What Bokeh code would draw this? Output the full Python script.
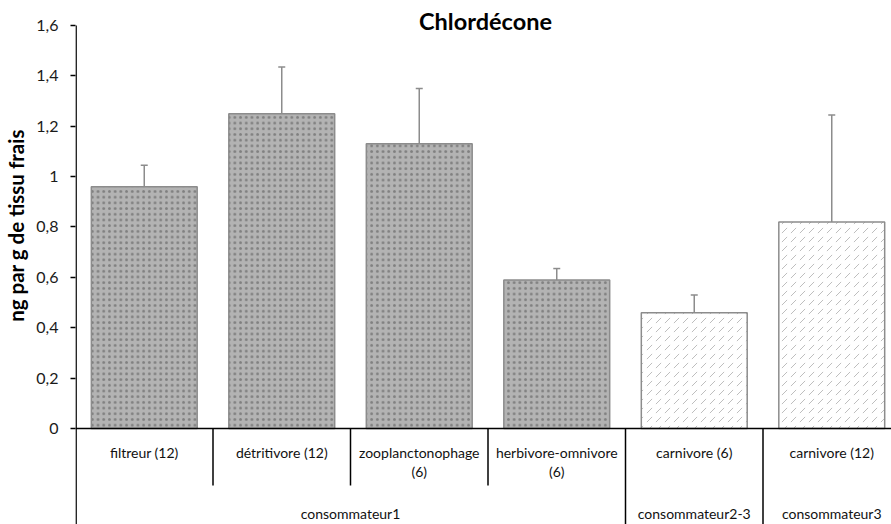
from bokeh.plotting import figure
from bokeh.layouts import row
from bokeh.models import Range1d, FixedTicker, Span, Whisker, TeeHead, ColumnDataSource
from bokeh.core.properties import value
from bokeh.embed import file_html
from bokeh.resources import INLINE
import math

# ---- data ----
categories = ["filtreur (12)", "détritivore (12)", "zooplanctonophage\n(6)",
              "herbivore-omnivore\n(6)", "carnivore (6)", "carnivore (12)"]
means = [0.96, 1.25, 1.13, 0.59, 0.46, 0.82]
errors = [0.085, 0.185, 0.22, 0.045, 0.07, 0.425]
groups = ["consommateur1", "consommateur2-3", "consommateur3"]
group_sizes = [4, 1, 1]
tick_values = [0, 0.2, 0.4, 0.6, 0.8, 1.0, 1.2, 1.4, 1.6]
tick_labels = ["0", "0,2", "0,4", "0,6", "0,8", "1", "1,2", "1,4", "1,6"]
title_text = "Chlordécone"
ylabel_text = "ng par g de tissu frais"
hatched = [False, False, False, False, True, True]

FONT = "Lato"
W, H = 891, 524
LW = 32                      # width of the y-label strip
frame_left_px = 75           # page x of the value axis
px_per_cat = 137.5
px_per_unit = 251.9
y0_px = 428                  # page y of value 0
y_max = tick_values[-1]

def ydat(py):
    return (y0_px - py) / px_per_unit

def xdat(px):
    return (px - frame_left_px) / px_per_cat

# ---- y-label strip ----
lab = figure(width=LW, height=H, output_backend="svg", toolbar_location=None,
             x_range=Range1d(0, LW), y_range=Range1d(0, H),
             min_border_left=0, min_border_right=0, min_border_top=0, min_border_bottom=0,
             x_axis_location=None, y_axis_location=None)
lab.outline_line_color = None
lab.grid.visible = False
lab.text(x=[15.5], y=[H - 225], text=[ylabel_text], angle=math.pi / 2,
         text_align="center", text_baseline="middle", text_font=value(FONT),
         text_font_size="20.5px", text_font_style="bold", text_color="black")

# ---- main chart ----
x_end = (W - frame_left_px) / px_per_cat
y_start = ydat(H)
y_end = ydat(0)

p = figure(width=W - LW, height=H, output_backend="svg", toolbar_location=None,
           x_range=Range1d(0, x_end), y_range=Range1d(y_start, y_end),
           min_border_left=frame_left_px - LW, min_border_top=0,
           min_border_right=0, min_border_bottom=0, x_axis_location=None)
p.outline_line_color = None
p.grid.visible = False

yax = p.yaxis[0]
yax.ticker = FixedTicker(ticks=tick_values)
yax.major_label_overrides = {v: l for v, l in zip(tick_values, tick_labels)}
yax.minor_tick_line_color = None
yax.major_tick_in = 0
yax.major_tick_out = 5
yax.major_label_standoff = 12
yax.axis_line_color = None
yax.major_tick_line_color = "black"
yax.major_tick_line_width = 1.5
yax.major_label_text_font = FONT
yax.major_label_text_font_size = "16px"
yax.major_label_text_color = "#1a1a1a"

# axis line from the bottom up to the top tick
ax_x = 0.6 / px_per_cat
p.segment(x0=[ax_x], y0=[y_start], x1=[ax_x], y1=[y_max], line_color="black", line_width=1.5)

n = len(categories)
xs = [i + 0.5 for i in range(n)]
src = ColumnDataSource(dict(
    x=xs, top=means, upper=[m + e for m, e in zip(means, errors)],
    fill=["white" if h else "#b3b3b3" for h in hatched],
    hatch=["right_diagonal_dash" if h else "dot" for h in hatched],
    hcol=["#bdbdbd" if h else "#808080" for h in hatched],
    hscale=[9 if h else 5.7 for h in hatched],
))

p.vbar(x="x", top="top", bottom=0, width=0.77, source=src,
       fill_color="fill", line_color="#8c8c8c", line_width=1.5,
       hatch_pattern="hatch", hatch_color="hcol", hatch_scale="hscale",
       hatch_weight=1.0)

wh = Whisker(base="x", lower="top", upper="upper", source=src,
             line_color="#8c8c8c", line_width=1.5,
             upper_head=TeeHead(size=7, line_color="#8c8c8c", line_width=1.5),
             lower_head=None)
p.add_layout(wh)

# baseline
p.add_layout(Span(location=0, dimension="width", line_color="black", line_width=1.5))

# separators
bounds = [0]
for g in group_sizes:
    bounds.append(bounds[-1] + g)
short_x = [i for i in range(1, n) if i not in bounds]
long_x = [b for b in bounds[1:-1]]
p.segment(x0=short_x, y0=[0] * len(short_x), x1=short_x, y1=[ydat(485)] * len(short_x),
          line_color="black", line_width=1.5)
p.segment(x0=long_x, y0=[0] * len(long_x), x1=long_x, y1=[y_start] * len(long_x),
          line_color="black", line_width=1.5)

# category labels
l1 = [c.split("\n")[0] for c in categories]
l2 = [c.split("\n")[1] if "\n" in c else "" for c in categories]
p.text(x=xs, y=[ydat(452)] * n, text=l1, text_align="center", text_baseline="middle",
       text_font=value(FONT), text_font_size="14px", text_color="#111111")
p.text(x=xs, y=[ydat(471)] * n, text=l2, text_align="center", text_baseline="middle",
       text_font=value(FONT), text_font_size="14px", text_color="#111111")

gx = [(bounds[i] + bounds[i + 1]) / 2 for i in range(len(groups))]
p.text(x=gx, y=[ydat(513)] * len(groups), text=groups, text_align="center",
       text_baseline="middle", text_font=value(FONT), text_font_size="14px",
       text_color="#111111")

# title
p.text(x=[xdat(485)], y=[ydat(20)], text=[title_text], text_align="center",
       text_baseline="middle", text_font=value(FONT), text_font_size="23.5px",
       text_font_style="bold", text_color="black")

layout = row(lab, p, spacing=0)
open("out.html", "w").write(file_html(layout, INLINE))
